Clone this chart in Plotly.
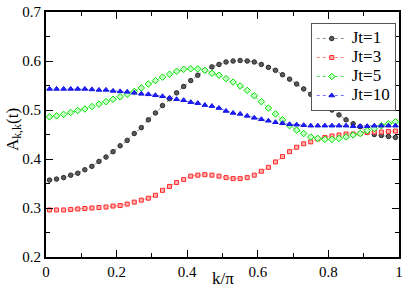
import plotly.graph_objects as go

k_values = [(2 * n + 1) / 100 for n in range(50)]

jt1 = [0.357, 0.359, 0.362, 0.367, 0.371, 0.378, 0.385, 0.395, 0.404, 0.415,
       0.427, 0.438, 0.452, 0.464, 0.480, 0.494, 0.509, 0.523, 0.535, 0.548,
       0.560, 0.571, 0.581, 0.588, 0.593, 0.598, 0.600, 0.601, 0.600, 0.598,
       0.593, 0.587, 0.581, 0.572, 0.563, 0.553, 0.543, 0.532, 0.521, 0.510,
       0.500, 0.490, 0.480, 0.472, 0.466, 0.456, 0.450, 0.448, 0.446, 0.444]
jt3 = [0.296, 0.296, 0.296, 0.297, 0.298, 0.299, 0.300, 0.301, 0.302, 0.304,
       0.305, 0.308, 0.312, 0.316, 0.320, 0.326, 0.336, 0.344, 0.352, 0.358,
       0.365, 0.367, 0.368, 0.367, 0.365, 0.362, 0.360, 0.360, 0.362, 0.367,
       0.375, 0.383, 0.394, 0.405, 0.415, 0.424, 0.431, 0.435, 0.441, 0.444,
       0.447, 0.449, 0.451, 0.451, 0.452, 0.454, 0.455, 0.455, 0.456, 0.457]
jt5 = [0.486, 0.488, 0.491, 0.495, 0.499, 0.502, 0.507, 0.512, 0.517, 0.522,
       0.527, 0.532, 0.538, 0.545, 0.553, 0.560, 0.567, 0.573, 0.579, 0.583,
       0.584, 0.584, 0.581, 0.575, 0.571, 0.564, 0.557, 0.549, 0.540, 0.529,
       0.517, 0.504, 0.492, 0.480, 0.468, 0.459, 0.452, 0.445, 0.442, 0.440,
       0.440, 0.442, 0.445, 0.449, 0.452, 0.458, 0.462, 0.468, 0.472, 0.476]
jt10 = [0.543, 0.543, 0.543, 0.543, 0.543, 0.543, 0.542, 0.541, 0.541, 0.539,
        0.538, 0.537, 0.535, 0.533, 0.532, 0.530, 0.528, 0.525, 0.522, 0.520,
        0.516, 0.514, 0.510, 0.508, 0.504, 0.498, 0.494, 0.492, 0.488, 0.484,
        0.481, 0.478, 0.475, 0.473, 0.471, 0.470, 0.469, 0.468, 0.468, 0.468,
        0.468, 0.468, 0.468, 0.467, 0.467, 0.467, 0.468, 0.468, 0.468, 0.468]

series_names = ["Jt=1", "Jt=3", "Jt=5", "Jt=10"]
x_ticks = [0, 0.2, 0.4, 0.6, 0.8, 1]
x_tick_labels = ["0", "0.2", "0.4", "0.6", "0.8", "1"]
y_ticks = [0.2, 0.3, 0.4, 0.5, 0.6, 0.7]
y_tick_labels = ["0.2", "0.3", "0.4", "0.5", "0.6", "0.7"]

styles = [
    dict(symbol="circle", fill="#5a5a5a", edge="#2a2a2a", line="#909090", size=4.5),
    dict(symbol="square", fill="#ffb0b0", edge="#ff2a2a", line="#ff8080", size=4),
    dict(symbol="diamond", fill="#c8ffc8", edge="#00e000", line="#50e050", size=5),
    dict(symbol="triangle-up", fill="#2020ff", edge="#1010e0", line="#7070ff", size=5),
]

font_family = "Liberation Serif, Times New Roman, serif"

fig = go.Figure()
for name, ys, st in zip(series_names, [jt1, jt3, jt5, jt10], styles):
    fig.add_trace(go.Scatter(
        x=k_values, y=ys, mode="lines+markers",
        name='<span style="font-size:17px;font-family:Liberation Serif">' + name + '</span>',
        line=dict(color=st["line"], width=1, dash="dot"),
        marker=dict(symbol=st["symbol"], size=st["size"], color=st["fill"],
                    line=dict(color=st["edge"], width=1)),
    ))

axis_common = dict(
    showline=True, linecolor="black", linewidth=1.8, mirror="allticks",
    ticks="inside", ticklen=7, tickwidth=1.3, tickcolor="black",
    showgrid=False, zeroline=False, ticklabeloverflow="allow",
    tickfont=dict(family=font_family, size=15, color="black"),
)

fig.update_layout(
    width=407, height=287,
    margin=dict(l=46, r=4, t=6, b=30),
    paper_bgcolor="white", plot_bgcolor="white",
    font=dict(family=font_family, color="black"),
    showlegend=True,
    legend=dict(x=0.75, y=0.955, xanchor="left", yanchor="top",
                bordercolor="#555555", borderwidth=1, bgcolor="white",
                font=dict(family=font_family, size=11, color="black"),
                tracegroupgap=0, itemwidth=30),
    xaxis=dict(range=[0, 1], tickvals=x_ticks, ticktext=x_tick_labels,
               minor=dict(dtick=0.1, ticks="inside", ticklen=4, tickcolor="black"),
               **axis_common),
    yaxis=dict(range=[0.2, 0.7], tickvals=y_ticks, ticktext=y_tick_labels,
               minor=dict(dtick=0.05, ticks="inside", ticklen=4, tickcolor="black"),
               **axis_common),
    annotations=[
        dict(text="k/π", xref="paper", yref="paper", x=0.5, y=-0.089,
             xanchor="center", yanchor="middle", showarrow=False,
             font=dict(family=font_family, size=17, color="black")),
        dict(text="A<sub>k,k</sub>(t)", xref="paper", yref="paper", x=-0.092, y=0.52,
             xanchor="center", yanchor="middle", showarrow=False, textangle=-90,
             font=dict(family=font_family, size=17, color="black")),
    ],
)

fig.write_html("out.html",
               config={"displayModeBar": False},
               post_script="document.body.style.margin='0';document.body.style.overflow='hidden';")
